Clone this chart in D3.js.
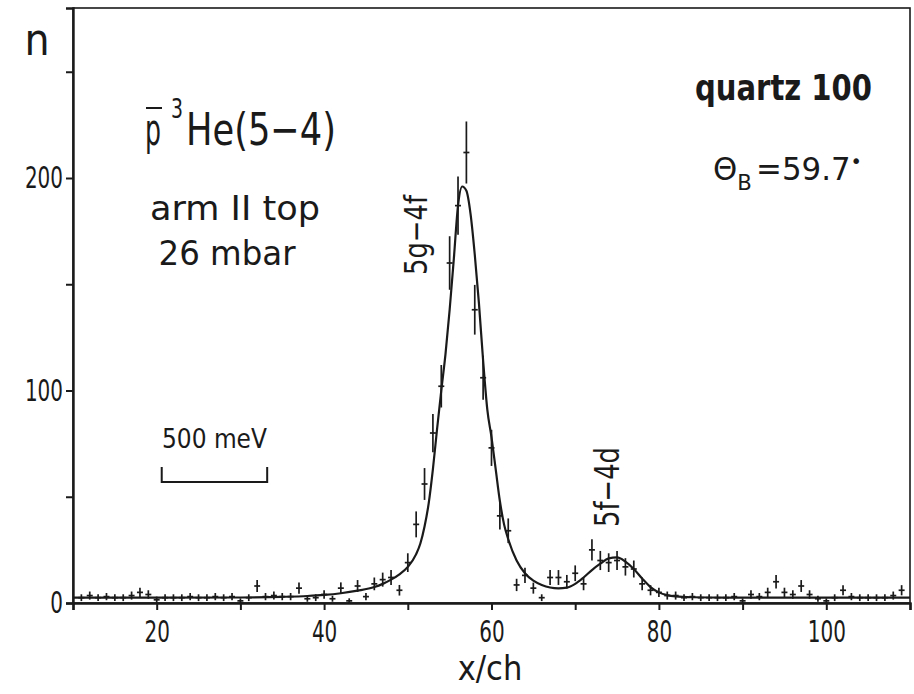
<!DOCTYPE html>
<html>
<head>
<meta charset="utf-8">
<script src="https://cdn.jsdelivr.net/npm/d3@7"></script>
<style>
  body { margin: 0; background: #fff; }
  svg text { font-family: "DejaVu Sans Condensed", "DejaVu Sans", sans-serif; font-stretch: condensed; fill: #1a1a1a; }
</style>
</head>
<body>
<div id="chart"></div>
<script>
// measured spectrum, channels 11..109
const channels = d3.range(11, 110);
const counts = [
  2.5, 3.5, 2.5, 3, 2.5, 2.5, 3.5, 5, 4, 1.5,
  2.5, 2.5, 2.5, 3, 2.5, 2.5, 3, 2.5, 3, 1,
  2.5, 8, 3, 3.5, 3, 3, 7, 2, 2.5, 4,
  2, 7, 1, 8, 3, 9, 11, 12, 6, 19,
  37, 56, 80, 102, 160, 187, 212, 138, 106, 73,
  41, 34, 8.5, 13, 7, 2.5, 12, 12, 10, 14,
  9, 25, 20, 19, 20, 17, 16, 9, 6, 5,
  3.5, 3.5, 2.5, 3, 2.5, 2.5, 2.5, 2.5, 3, 1,
  4, 3, 5, 10, 5, 4, 8, 4, 2, 1,
  2.5, 6, 3, 2.5, 2.5, 2.5, 2.5, 3.5, 6
];
const errors = [
  1.6, 1.9, 1.6, 1.7, 1.6, 1.6, 1.9, 2.2, 2, 1.5,
  1.6, 1.6, 1.6, 1.7, 1.6, 1.6, 1.7, 1.6, 1.7, 1.2,
  1.6, 2.8, 1.7, 1.9, 1.7, 1.7, 2.7, 1.4, 1.6, 2,
  1.4, 2.7, 1.2, 2.8, 1.7, 3, 3.3, 3.5, 2.5, 4.4,
  6.1, 7.5, 9, 10, 12.6, 13.7, 14.6, 11.7, 10.3, 8.5,
  6.4, 5.8, 2.9, 3.6, 2.6, 1.6, 3.5, 3.5, 3.2, 3.7,
  3, 5, 4.5, 4.4, 4.5, 4.1, 4, 3, 2.4, 2.2,
  1.9, 1.9, 1.6, 1.7, 1.6, 1.6, 1.6, 1.6, 1.7, 1.2,
  2, 1.7, 2.2, 3.2, 2.2, 2, 2.8, 2, 1.4, 1.2,
  1.6, 2.4, 1.7, 1.6, 1.6, 1.6, 1.6, 1.9, 2.4
];

// fitted line shape
const fitX = [10, 20, 30, 35, 38, 40, 42, 44, 46, 47,
  48, 49, 50, 51, 51.5, 52, 52.5, 53, 53.5, 54,
  54.5, 55, 55.5, 56, 56.5, 57, 57.5, 58, 58.5, 59,
  59.5, 60, 60.5, 61, 61.5, 62, 63, 64, 65, 66,
  67, 68, 69, 70, 71, 72, 73, 74, 75, 76,
  77, 78, 79, 80, 81, 82, 84, 88, 100, 110];
const fitY = [2.5, 2.5, 2.6, 2.9, 3.3, 3.8, 4.6, 5.8, 7.5, 9,
  11, 13.5, 17, 23, 28, 36, 47, 63, 82, 100,
  117, 138, 162, 187, 196, 194, 183, 164, 141, 114,
  91, 78, 63, 48, 37, 30, 20, 14, 10.5, 8.5,
  7.3, 6.9, 7.2, 9, 12, 15.5, 18.5, 21, 21.5, 19.5,
  16, 11.5, 7.5, 5, 3.7, 3.1, 2.7, 2.5, 2.5, 2.5];

const xTicks = [10, 20, 30, 40, 50, 60, 70, 80, 90, 100, 110];
const xLabels = [20, 40, 60, 80, 100];
const yTicks = [0, 50, 100, 150, 200, 250];
const yLabels = [0, 100, 200];
const scaleBar = [20.6, 33.2]; // 500 meV

const width = 914, height = 694;
const svg = d3.select('#chart').append('svg')
  .attr('width', width).attr('height', height);

const x = d3.scaleLinear().domain([10, 110]).range([73, 910]);
const y = d3.scaleLinear().domain([0, 280]).range([603, 8]);
const ink = '#1a1a1a';

// frame
svg.append('rect')
  .attr('x', x(10)).attr('y', y(280))
  .attr('width', x(110) - x(10)).attr('height', y(0) - y(280))
  .attr('fill', 'none').attr('stroke', ink).attr('stroke-width', 1.6);

// axes
const xAxis = d3.axisBottom(x).tickValues(xTicks).tickSize(7).tickPadding(10)
  .tickFormat(d => xLabels.includes(d) ? d : '');
svg.append('g').attr('class', 'x-axis')
  .attr('transform', `translate(0,${y(0)})`).call(xAxis);

const yAxis = d3.axisLeft(y).tickValues(yTicks).tickSize(7).tickPadding(3)
  .tickFormat(d => yLabels.includes(d) ? d : '');
svg.append('g').attr('class', 'y-axis')
  .attr('transform', `translate(${x(10)},0)`).call(yAxis);

svg.selectAll('.x-axis .domain, .y-axis .domain')
  .attr('stroke', ink).attr('stroke-width', 2.4);
svg.selectAll('.tick line').attr('stroke', ink).attr('stroke-width', 2);
svg.selectAll('.tick text').attr('font-size', 31).attr('fill', ink)
  .style('font-family', '"DejaVu Sans Condensed", "DejaVu Sans", sans-serif')
  .attr('lengthAdjust', 'spacingAndGlyphs')
  .attr('textLength', function() {
    const s = d3.select(this).text();
    return s ? s.length * 12.7 : null;
  });

// fit curve
const line = d3.line()
  .x((d, i) => x(fitX[i]))
  .y(d => y(d))
  .curve(d3.curveMonotoneX);
svg.append('path')
  .attr('d', line(fitY))
  .attr('fill', 'none').attr('stroke', ink).attr('stroke-width', 2.2);

// data points with error bars
const pts = channels.map((c, i) => ({ c, n: counts[i], e: errors[i] }));
const g = svg.append('g').attr('stroke', ink).attr('stroke-width', 1.7);
g.selectAll('.err').data(pts).enter().append('line')
  .attr('class', 'err')
  .attr('x1', d => x(d.c)).attr('x2', d => x(d.c))
  .attr('y1', d => y(d.n - d.e)).attr('y2', d => y(d.n + d.e));
g.selectAll('.pt').data(pts).enter().append('line')
  .attr('class', 'pt')
  .attr('x1', d => x(d.c) - 3).attr('x2', d => x(d.c) + 3)
  .attr('y1', d => y(d.n)).attr('y2', d => y(d.n));

// 500 meV scale bar
svg.append('path')
  .attr('d', `M${x(scaleBar[0])},${y(64)}V${y(57)}H${x(scaleBar[1])}V${y(64)}`)
  .attr('fill', 'none').attr('stroke', ink).attr('stroke-width', 2);
svg.append('text').attr('x', (x(scaleBar[0]) + x(scaleBar[1])) / 2).attr('y', 448)
  .attr('text-anchor', 'middle').attr('font-size', 27)
  .attr('textLength', 105).attr('lengthAdjust', 'spacingAndGlyphs')
  .text('500  meV');

// axis titles
svg.append('text').attr('x', 37).attr('y', 55).attr('text-anchor', 'middle')
  .attr('font-size', 44).text('n');
svg.append('text').attr('x', 490).attr('y', 680).attr('text-anchor', 'middle')
  .attr('font-size', 34).text('x/ch');

// annotations: p-bar 3He(5-4)
svg.append('text').attr('x', 145).attr('y', 145).attr('font-size', 45)
  .attr('textLength', 16).attr('lengthAdjust', 'spacingAndGlyphs').text('p');
svg.append('line').attr('x1', 146).attr('x2', 162).attr('y1', 108).attr('y2', 108)
  .attr('stroke', ink).attr('stroke-width', 2);
svg.append('text').attr('x', 171).attr('y', 118).attr('font-size', 26)
  .attr('textLength', 12).attr('lengthAdjust', 'spacingAndGlyphs').text('3');
svg.append('text').attr('x', 186).attr('y', 145).attr('font-size', 45)
  .attr('textLength', 150).attr('lengthAdjust', 'spacingAndGlyphs')
  .text('He(5\u22124)');

svg.append('text').attr('x', 235).attr('y', 220).attr('text-anchor', 'middle')
  .attr('font-size', 33).attr('textLength', 170).attr('lengthAdjust', 'spacingAndGlyphs')
  .text('arm  II  top');
svg.append('text').attr('x', 227).attr('y', 265).attr('text-anchor', 'middle')
  .attr('font-size', 33).attr('textLength', 137).attr('lengthAdjust', 'spacingAndGlyphs')
  .text('26  mbar');

svg.append('text').attr('x', 695).attr('y', 100).attr('font-size', 36)
  .attr('font-weight', 'bold').attr('textLength', 177).attr('lengthAdjust', 'spacingAndGlyphs')
  .text('quartz  100');

const th = svg.append('text').attr('x', 713).attr('y', 180).attr('font-size', 32)
  .attr('textLength', 149).attr('lengthAdjust', 'spacingAndGlyphs');
th.append('tspan').text('\u0398');
th.append('tspan').attr('dy', 10).attr('font-size', 22).text('B');
th.append('tspan').attr('dy', -10).attr('dx', 4).text('=59.7');
th.append('tspan').attr('dy', -12).attr('font-size', 20).text('\u2022');

svg.append('text').attr('transform', 'translate(427,235) rotate(-90)')
  .attr('text-anchor', 'middle').attr('font-size', 32)
  .attr('textLength', 80).attr('lengthAdjust', 'spacingAndGlyphs')
  .text('5g\u22124f');
svg.append('text').attr('transform', 'translate(619,487) rotate(-90)')
  .attr('text-anchor', 'middle').attr('font-size', 34)
  .attr('textLength', 80).attr('lengthAdjust', 'spacingAndGlyphs')
  .text('5f\u22124d');
</script>
</body>
</html>
